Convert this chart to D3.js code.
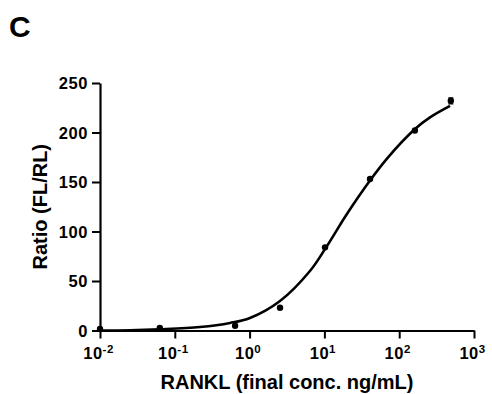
<!DOCTYPE html>
<html>
<head>
<meta charset="utf-8">
<script src="https://cdn.jsdelivr.net/npm/d3@7"></script>
<style>
  body { margin: 0; background: #fff; }
  svg text { font-family: "Liberation Sans", Arial, sans-serif; font-weight: bold; fill: #000; }
</style>
</head>
<body>
<div id="chart"></div>
<script>
// measured points (RANKL conc, ratio)
const concs = [0.01, 0.063, 0.64, 2.55, 10.2, 40.7, 162, 490];
const ratios = [1.5, 2.5, 4.8, 23, 84, 153, 202, 232];
const errs = [0, 0, 0, 0, 0, 0, 0, 3];

// fitted curve
const fitX = [0.01, 0.0252, 0.0634, 0.217, 0.547, 1.01, 2.55, 6.41, 10.5, 20.0, 40.7, 68.7, 162.6, 258, 478];
const fitY = [0, 0.2, 1.2, 3.5, 7.6, 12.6, 29.8, 60.1, 83.8, 117.7, 151.5, 173.7, 203.5, 215.2, 226.8];

const xTicks = [-2, -1, 0, 1, 2, 3];
const yTicks = [0, 50, 100, 150, 200, 250];

var margin = {top: 83, right: 18, bottom: 63.5, left: 100},
    width = 492 - margin.left - margin.right,
    height = 394 - margin.top - margin.bottom;

var svg = d3.select("#chart").append("svg")
    .attr("width", 492)
    .attr("height", 394);

var g = svg.append("g")
    .attr("transform", "translate(" + margin.left + "," + margin.top + ")");

var x = d3.scaleLog().domain([0.01, 1000]).range([0, width]);
var y = d3.scaleLinear().domain([0, 250]).range([height, 0]);

// panel letter
svg.append("text")
    .attr("x", 9)
    .attr("y", 37)
    .style("font-size", "30px")
    .text("C");

// y axis
var yAxis = g.append("g")
    .call(d3.axisLeft(y).tickValues(yTicks).tickSize(8).tickPadding(4).tickSizeOuter(0));
yAxis.select(".domain").attr("stroke-width", 2.2);
yAxis.selectAll(".tick line").attr("stroke-width", 2);
yAxis.selectAll(".tick text")
    .style("font-size", "16.5px")
    .style("letter-spacing", "0.6px")
    .attr("dy", "0.36em");

// x axis
var xAxis = g.append("g")
    .attr("transform", "translate(0," + height + ")")
    .call(d3.axisBottom(x).tickValues(xTicks.map(function(e) { return Math.pow(10, e); }))
        .tickSize(8).tickSizeOuter(0).tickFormat(""));
xAxis.select(".domain").attr("stroke-width", 2.2);
xAxis.selectAll(".tick line").attr("stroke-width", 2);

xAxis.selectAll(".tick").each(function(d, i) {
  var t = d3.select(this).append("text")
      .attr("x", -2)
      .attr("y", 28)
      .attr("text-anchor", "middle")
      .style("font-size", "16.5px")
      .style("letter-spacing", "0.5px");
  t.append("tspan").text("10");
  t.append("tspan")
      .attr("dy", "-6")
      .style("font-size", "11.5px")
      .text(xTicks[i]);
});

// fitted curve
var line = d3.line()
    .x(function(d) { return x(d[0]); })
    .y(function(d) { return y(d[1]); })
    .curve(d3.curveCatmullRom.alpha(0.5));

g.append("path")
    .datum(fitX.map(function(v, i) { return [v, fitY[i]]; }))
    .attr("fill", "none")
    .attr("stroke", "#000")
    .attr("stroke-width", 2.6)
    .attr("d", line);

// error bars
var pts = concs.map(function(c, i) { return {c: c, r: ratios[i], e: errs[i]}; });
g.selectAll(".err")
    .data(pts.filter(function(d) { return d.e > 0; }))
    .enter().append("path")
    .attr("stroke", "#000")
    .attr("stroke-width", 1.3)
    .attr("fill", "none")
    .attr("d", function(d) {
      var cx = x(d.c), y1 = y(d.r + d.e), y0 = y(d.r - d.e);
      return "M" + (cx - 2.5) + "," + y1 + "H" + (cx + 2.5) +
             "M" + cx + "," + y1 + "V" + y0 +
             "M" + (cx - 2.5) + "," + y0 + "H" + (cx + 2.5);
    });

// points
g.selectAll("circle")
    .data(pts)
    .enter().append("circle")
    .attr("cx", function(d) { return x(d.c); })
    .attr("cy", function(d) { return y(d.r); })
    .attr("r", 3.2)
    .attr("fill", "#000");

// axis titles
svg.append("text")
    .attr("x", margin.left + width / 2)
    .attr("y", 389)
    .attr("text-anchor", "middle")
    .style("font-size", "20px")
    .text("RANKL (final conc. ng/mL)");

svg.append("text")
    .attr("transform", "rotate(-90)")
    .attr("x", -(margin.top + height / 2))
    .attr("y", 47)
    .attr("text-anchor", "middle")
    .style("font-size", "20px")
    .text("Ratio (FL/RL)");
</script>
</body>
</html>
